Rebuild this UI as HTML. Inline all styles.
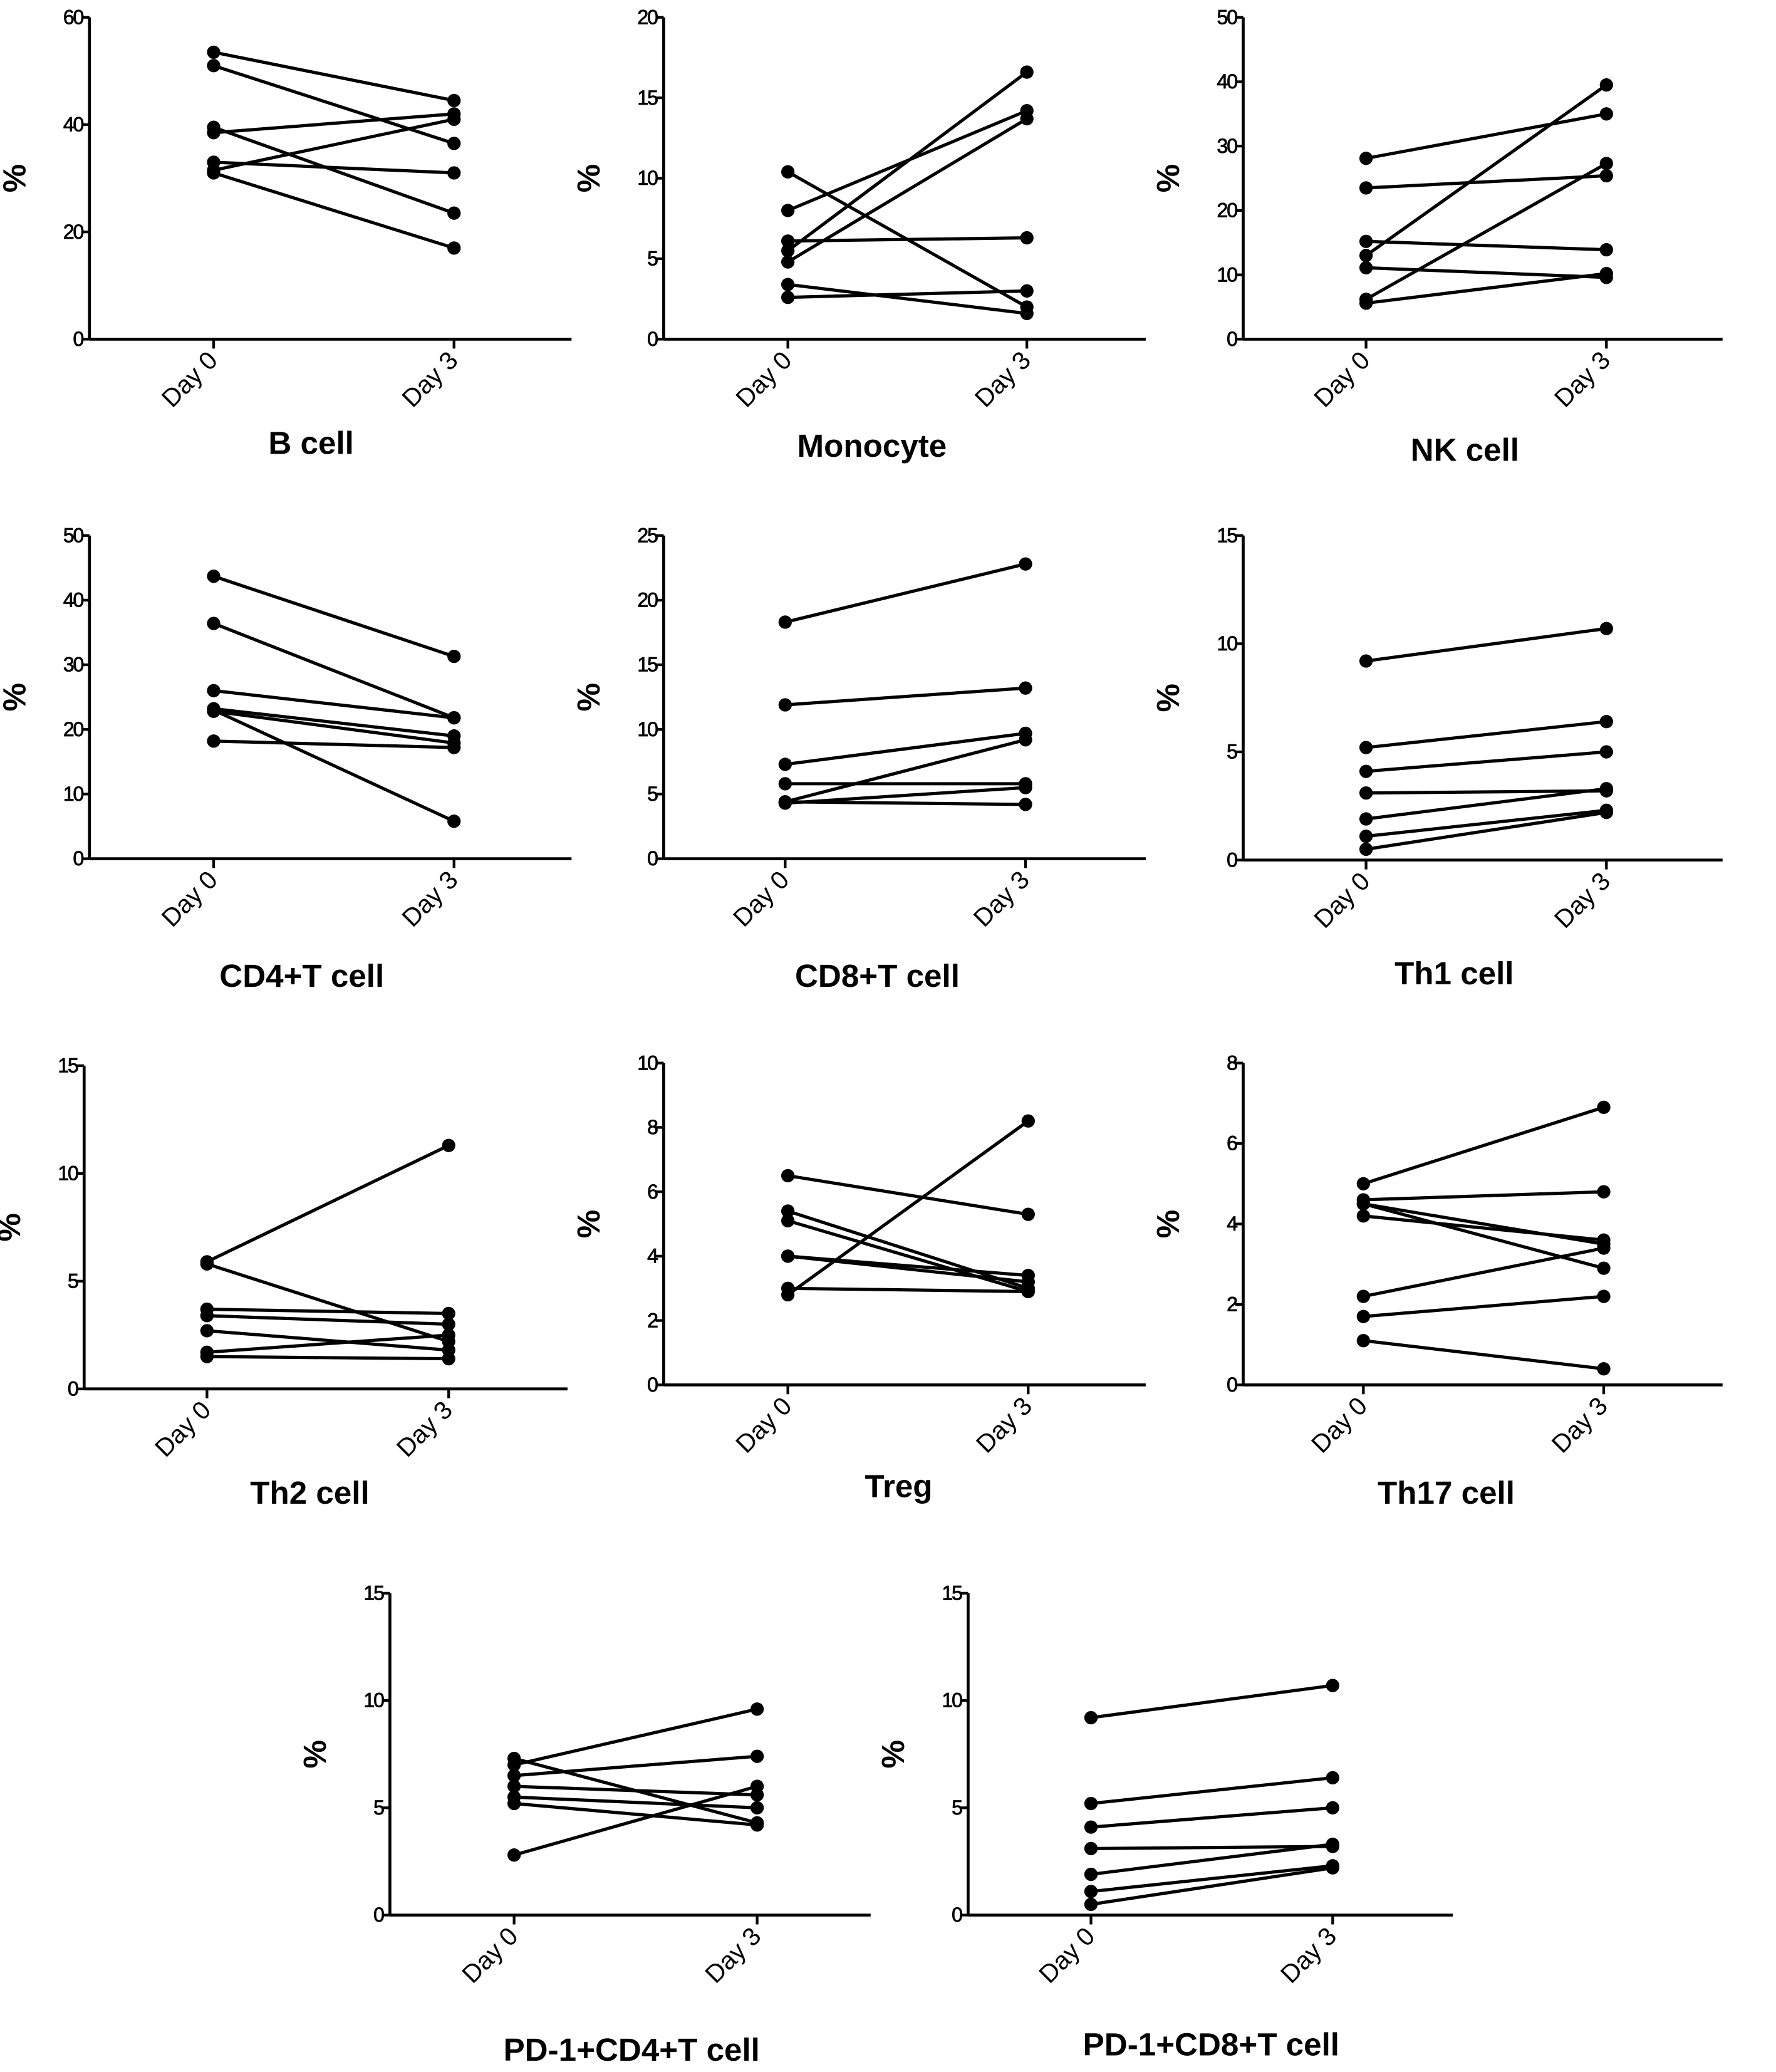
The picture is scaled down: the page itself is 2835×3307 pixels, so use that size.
<!DOCTYPE html>
<html><head><meta charset="utf-8">
<style>
html,body{margin:0;padding:0;background:#fff;}
svg{display:block;}
text{font-family:"Liberation Sans",Arial,sans-serif;fill:#000;}
</style></head>
<body>
<svg id="fig" width="2835" height="3307" viewBox="0 0 1330 1551.5" preserveAspectRatio="none" xmlns="http://www.w3.org/2000/svg"></svg>
<script>
// ---- data ----
const panelTitles = ["B cell","Monocyte","NK cell","CD4+T cell","CD8+T cell","Th1 cell","Th2 cell","Treg","Th17 cell","PD-1+CD4+T cell","PD-1+CD8+T cell"];
const panelMax = [60,20,50,50,25,15,15,10,8,15,15];
const panelTickStep = [20,5,10,10,5,5,5,2,2,5,5];
const categories = ["Day 0","Day 3"];
const bcellDay0 = [53.5,51,39.5,38.5,33,31.5,31];
const bcellDay3 = [44.5,36.5,23.5,42,31,41,17];
const monoDay0 = [10.4,8,6.1,5.5,4.8,3.4,2.6];
const monoDay3 = [2,14.2,6.3,16.6,13.7,1.6,3];
const nkDay0 = [28.1,23.5,15.2,13,11.1,6.2,5.6];
const nkDay3 = [35,25.4,13.9,39.5,9.6,27.3,10.2];
const cd4Day0 = [43.7,36.4,26,23.2,22.8,23,18.2];
const cd4Day3 = [31.3,21.8,21.8,19,17.9,5.8,17.2];
const cd8Day0 = [18.3,11.9,7.3,5.8,4.4,4.4,4.3];
const cd8Day3 = [22.8,13.2,9.7,5.8,9.2,4.2,5.5];
const th1Day0 = [9.2,5.2,4.1,3.1,1.9,1.1,0.5];
const th1Day3 = [10.7,6.4,5,3.2,3.3,2.3,2.2];
const th2Day0 = [5.9,5.8,3.7,3.4,2.7,1.7,1.5];
const th2Day3 = [11.3,2.2,3.5,3.0,1.8,2.5,1.4];
const tregDay0 = [6.5,5.4,5.1,4.0,4.0,3.0,2.8];
const tregDay3 = [5.3,3.0,2.9,3.4,3.2,2.9,8.2];
const th17Day0 = [5.0,4.6,4.5,4.5,4.2,2.2,1.7,1.1];
const th17Day3 = [6.9,4.8,3.5,2.9,3.6,3.4,2.2,0.4];
const pd4Day0 = [7.3,7.0,6.5,6.0,5.5,5.2,2.8];
const pd4Day3 = [4.3,9.6,7.4,5.6,5.0,4.2,6.0];
const pd8Day0 = [9.2,5.2,4.1,3.1,1.9,1.1,0.5];
const pd8Day3 = [10.7,6.4,5,3.2,3.3,2.3,2.2];
const panelDay0 = [bcellDay0,monoDay0,nkDay0,cd4Day0,cd8Day0,th1Day0,th2Day0,tregDay0,th17Day0,pd4Day0,pd8Day0];
const panelDay3 = [bcellDay3,monoDay3,nkDay3,cd4Day3,cd8Day3,th1Day3,th2Day3,tregDay3,th17Day3,pd4Day3,pd8Day3];

// ---- layout (geometry, not data) ----
const layout = [
 {ax:67,top:13,bot:254,right:428,d0:160,d3:340,ty:332,tx:233},
 {ax:497,top:13,bot:254,right:858,d0:590,d3:769,ty:334,tx:653},
 {ax:931,top:13,bot:254,right:1290,d0:1023,d3:1203,ty:337,tx:1097},
 {ax:67,top:401,bot:643,right:428,d0:160,d3:340,ty:731,tx:226},
 {ax:497,top:401,bot:643,right:858,d0:588,d3:768,ty:731,tx:657},
 {ax:931,top:401,bot:644,right:1290,d0:1023,d3:1203,ty:729,tx:1089},
 {ax:63,top:798,bot:1040,right:425,d0:155,d3:336,ty:1118,tx:232},
 {ax:497,top:796,bot:1037,right:858,d0:590,d3:770,ty:1113,tx:673},
 {ax:931,top:796,bot:1037,right:1290,d0:1021,d3:1201,ty:1118,tx:1083},
 {ax:292,top:1193,bot:1434,right:652,d0:385,d3:567,ty:1535,tx:473},
 {ax:725,top:1193,bot:1434,right:1088,d0:817,d3:998,ty:1531,tx:907}
];
const NS="http://www.w3.org/2000/svg";
const svg=document.getElementById('fig');
function mk(tag,attrs,parent){const e=document.createElementNS(NS,tag);for(const k in attrs)e.setAttribute(k,attrs[k]);parent.appendChild(e);return e;}

panelTitles.forEach((title,i)=>{
  const L=layout[i];
  const max=panelMax[i];
  const y=v=>L.bot-(v/max)*(L.bot-L.top);
  const xs=[L.d0,L.d3];
  const g=mk('g',{},svg);
  
  
  const ya=mk('line',{x1:L.ax,y1:L.top,x2:L.ax,y2:L.bot,stroke:'#000','stroke-width':2.2},g);
  
  
  const xa=mk('line',{x1:L.ax,y1:L.bot,x2:L.right,y2:L.bot,stroke:'#000','stroke-width':2.2},g);
  
  
  for(let v=0;v<=max+1e-9;v+=panelTickStep[i]){
    mk('line',{x1:L.ax-6,y1:y(v),x2:L.ax,y2:y(v),stroke:'#000','stroke-width':2},g);
    const t=mk('text',{x:L.ax-5,y:y(v)+5,'text-anchor':'end','font-size':15,'letter-spacing':-1,stroke:'#000','stroke-width':0.4},g);
    t.textContent=String(v);
    
    
  }
  categories.forEach((c,k)=>{
    mk('line',{x1:xs[k],y1:L.bot,x2:xs[k],y2:L.bot+7,stroke:'#000','stroke-width':2},g);
    const t=mk('text',{x:xs[k]+4,y:L.bot+17,'text-anchor':'end','font-size':19,transform:`rotate(-45 ${xs[k]+4} ${L.bot+17})`},g);
    t.textContent=c;
    
    
  });
  const yl=mk('text',{x:L.ax-48,y:(L.top+L.bot)/2,'text-anchor':'middle','font-size':24,'font-weight':'bold',transform:`rotate(-90 ${L.ax-48} ${(L.top+L.bot)/2})`},g);
  yl.textContent='%';
  
  
  const tt=mk('text',{x:L.tx,y:L.ty+8,'text-anchor':'middle','font-size':24,'font-weight':'bold'},g);
  tt.textContent=title;
  
  
  const a=panelDay0[i], b=panelDay3[i];
  a.forEach((v0,j)=>{
    const ln=mk('line',{x1:xs[0],y1:y(v0),x2:xs[1],y2:y(b[j]),stroke:'#000','stroke-width':2.4},g);
    
    
    [[xs[0],v0],[xs[1],b[j]]].forEach(p=>{
      const c=mk('circle',{cx:p[0],cy:y(p[1]),r:5,fill:'#000'},g);
      
      
    });
  });
});
</script>
</body></html>
